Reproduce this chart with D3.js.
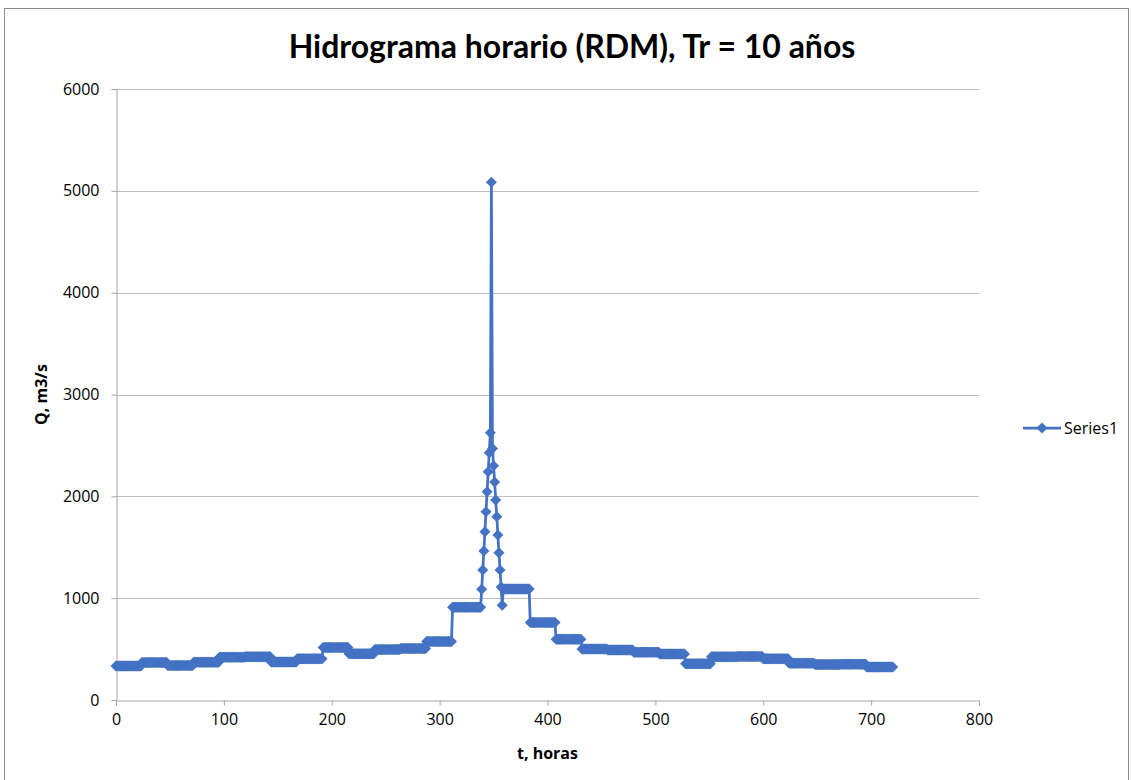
<!DOCTYPE html>
<html>
<head>
<meta charset="utf-8">
<script src="https://cdn.jsdelivr.net/npm/d3@7"></script>
<style>
  body { margin: 0; background: #fff; }
  svg { display: block; }
</style>
</head>
<body>
<svg id="chart" width="1132" height="780"></svg>
<script>
// ---- data ----
const title = "Hidrograma horario (RDM), Tr = 10 años";
const xLabel = "t, horas";
const yLabel = "Q, m3/s";
const seriesName = "Series1";
const xTicks = [0, 100, 200, 300, 400, 500, 600, 700, 800];
const yTicks = [0, 1000, 2000, 3000, 4000, 5000, 6000];
// daily (24 h) flow level, day 0 .. day 29
const dailyQ = [335, 368, 340, 370, 420, 425, 372, 405, 515, 455,
                497, 505, 575, 910, 910, 1090, 760, 596, 500, 492,
                470, 452, 355, 425, 428, 405, 360, 348, 352, 325];
// hourly flood peak, starting at hour 339
const peakStart = 339;
const peakQ = [1087, 1277, 1463, 1653, 1849, 2046, 2242, 2429, 2625, 5085,
               2470, 2300, 2140, 1964, 1800, 1620, 1447, 1277, 1110, 930, 1090];
const lastHour = 720;

// build hourly series
const series = [];
for (let t = 0; t <= lastHour; t++) {
  let q = dailyQ[Math.min(Math.floor(t / 24), dailyQ.length - 1)];
  const k = t - peakStart;
  if (k >= 0 && k < peakQ.length) q = peakQ[k];
  series.push({ t, q });
}

// ---- layout ----
const svg = d3.select("#chart");
const plot = { left: 116, right: 979, top: 89, bottom: 700 };
const color = "#4472C4";
const font = "'Open Sans', 'Liberation Sans', sans-serif";

// outer border
svg.append("rect").attr("x", 4.5).attr("y", 8.5).attr("width", 1124).attr("height", 780)
  .attr("fill", "#fff").attr("stroke", "#8c8c8c").attr("stroke-width", 1);

const x = d3.scaleLinear().domain([0, 800]).range([plot.left, plot.right]);
const y = d3.scaleLinear().domain([0, 6000]).range([plot.bottom, plot.top]);

// grid lines
svg.append("g").selectAll("line").data(yTicks.filter(d => d > 0)).join("line")
  .attr("x1", plot.left).attr("x2", plot.right)
  .attr("y1", d => Math.round(y(d)) + 0.5).attr("y2", d => Math.round(y(d)) + 0.5)
  .attr("stroke", "#bfbfbf").attr("stroke-width", 1);

// axes
const xAxis = svg.append("g").attr("transform", `translate(0,${plot.bottom + 0.5})`)
  .call(d3.axisBottom(x).tickValues(xTicks).tickSize(5).tickPadding(8).tickFormat(d3.format("d")));
const yAxis = svg.append("g").attr("transform", `translate(${plot.left + 0.5},0)`)
  .call(d3.axisLeft(y).tickValues(yTicks).tickSize(5).tickPadding(12).tickFormat(d3.format("d")));
[xAxis, yAxis].forEach(g => {
  g.select(".domain").attr("stroke", "#a6a6a6");
  g.selectAll(".tick line").attr("stroke", "#a6a6a6");
  g.selectAll(".tick text").attr("fill", "#000").style("font-family", font).style("font-size", "16px");
});

// line
const line = d3.line().x(d => x(d.t)).y(d => y(d.q));
svg.append("path").datum(series).attr("d", line)
  .attr("fill", "none").attr("stroke", color).attr("stroke-width", 2.75).attr("stroke-linejoin", "round");

// markers (diamonds)
const diamond = "M0,-5.5L5.5,0L0,5.5L-5.5,0Z";
svg.append("g").selectAll("path").data(series).join("path")
  .attr("transform", d => `translate(${x(d.t)},${y(d.q)})`)
  .attr("d", diamond).attr("fill", color);

// title
svg.append("text").attr("x", 572).attr("y", 58).attr("text-anchor", "middle")
  .style("font-family", "Lato, 'Open Sans', sans-serif").style("font-weight", "bold").style("font-size", "32px")
  .text(title);

// axis titles
svg.append("text").attr("x", (plot.left + plot.right) / 2).attr("y", 759).attr("text-anchor", "middle")
  .style("font-family", font).style("font-weight", "bold").style("font-size", "16px").text(xLabel);
svg.append("text").attr("transform", `translate(47,${(plot.top + plot.bottom) / 2}) rotate(-90)`)
  .attr("text-anchor", "middle")
  .style("font-family", font).style("font-weight", "bold").style("font-size", "16px").text(yLabel);

// legend
const ly = 428;
svg.append("line").attr("x1", 1023).attr("x2", 1061).attr("y1", ly).attr("y2", ly)
  .attr("stroke", color).attr("stroke-width", 2.75);
svg.append("path").attr("transform", `translate(1042,${ly})`).attr("d", diamond).attr("fill", color);
svg.append("text").attr("x", 1064).attr("y", ly + 6)
  .style("font-family", font).style("font-size", "16px").text(seriesName);
</script>
</body>
</html>
